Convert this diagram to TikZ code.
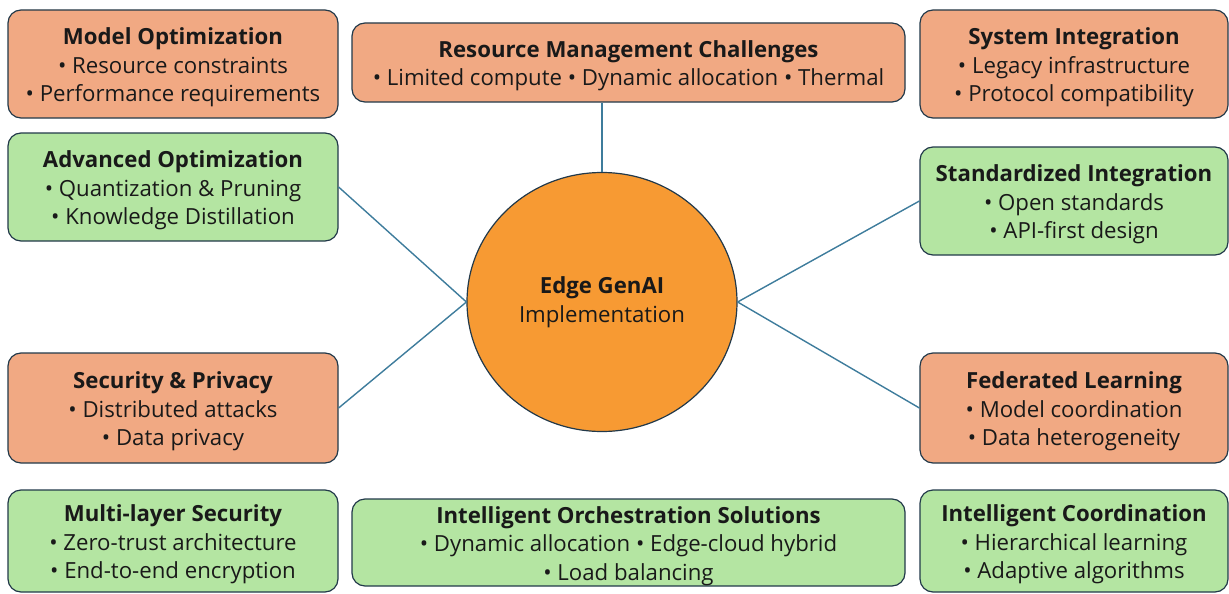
\documentclass[tikz,border=0pt]{standalone}
\usepackage{fontspec}
\setmainfont{Open Sans}
\usetikzlibrary{shapes.geometric}
\definecolor{challenge}{HTML}{F1A983}
\definecolor{solution}{HTML}{B4E5A2}
\definecolor{core}{HTML}{F79A33}
\definecolor{edge}{HTML}{22394A}
\definecolor{link}{HTML}{3E7C9C}
% card heading: bold, with a strut that lowers the text block a little
\newcommand\cardtitle[1]{\rule{0pt}{23.5pt}\textbf{#1}}
\tikzset{
  card/.style={draw=edge, line width=1.2pt, rounded corners=13pt, align=center,
    inner sep=0pt, font=\fontsize{22.2}{28.5}\selectfont, text=black!90},
  challengebox/.style={card, fill=challenge},
  solutionbox/.style={card, fill=solution},
  hub/.style={ellipse, draw=edge, line width=1.2pt, fill=core, align=center,
    minimum width=270pt, minimum height=259pt, inner sep=0pt,
    font=\fontsize{22.2}{28.5}\selectfont, text=black!90},
  spoke/.style={draw=link, line width=1.4pt},
}
\begin{document}
\begin{tikzpicture}[x=1pt, y=-1pt]
\useasboundingbox (0,0) rectangle (1229,594);

% centre
\node[hub] (hub) at (602,302) {\textbf{Edge GenAI}\\Implementation};

% left column
\node[challengebox, minimum width=330pt, minimum height=108pt] (mo) at (173,64)
  {\cardtitle{Model Optimization}\\• Resource constraints\\• Performance requirements};
\node[solutionbox, minimum width=330pt, minimum height=108pt] (ao) at (173,187)
  {\cardtitle{Advanced Optimization}\\• Quantization \& Pruning\\• Knowledge Distillation};
\node[challengebox, minimum width=330pt, minimum height=110pt] (sp) at (173,408)
  {\cardtitle{Security \& Privacy}\\• Distributed attacks\\• Data privacy};
\node[solutionbox, minimum width=330pt, minimum height=102pt] (ml) at (173,541)
  {\cardtitle{Multi-layer Security}\\• Zero-trust architecture\\• End-to-end encryption};

% middle column
\node[challengebox, minimum width=553pt, minimum height=79pt] (rm) at (628.5,62.5)
  {\cardtitle{Resource Management Challenges}\\• Limited compute • Dynamic allocation • Thermal};
\node[solutionbox, minimum width=553pt, minimum height=87pt] (io) at (628.5,542.5)
  {\cardtitle{Intelligent Orchestration Solutions}\\• Dynamic allocation • Edge-cloud hybrid\\• Load balancing};

% right column
\node[challengebox, minimum width=308pt, minimum height=108pt] (si) at (1074,64)
  {\cardtitle{System Integration}\\• Legacy infrastructure\\• Protocol compatibility};
\node[solutionbox, minimum width=308pt, minimum height=108pt] (st) at (1074,201)
  {\cardtitle{Standardized Integration}\\• Open standards\\• API-first design};
\node[challengebox, minimum width=308pt, minimum height=110pt] (fl) at (1074,408)
  {\cardtitle{Federated Learning}\\• Model coordination\\• Data heterogeneity};
\node[solutionbox, minimum width=308pt, minimum height=102pt] (ic) at (1074,541)
  {\cardtitle{Intelligent Coordination}\\• Hierarchical learning\\• Adaptive algorithms};

% spokes
\draw[spoke] (hub.north) -- (hub.north |- rm.south);
\draw[spoke] (ao.east) -- (hub.west);
\draw[spoke] (sp.east) -- (hub.west);
\draw[spoke] (st.west) -- (hub.east);
\draw[spoke] (fl.west) -- (hub.east);
\end{tikzpicture}
\end{document}
